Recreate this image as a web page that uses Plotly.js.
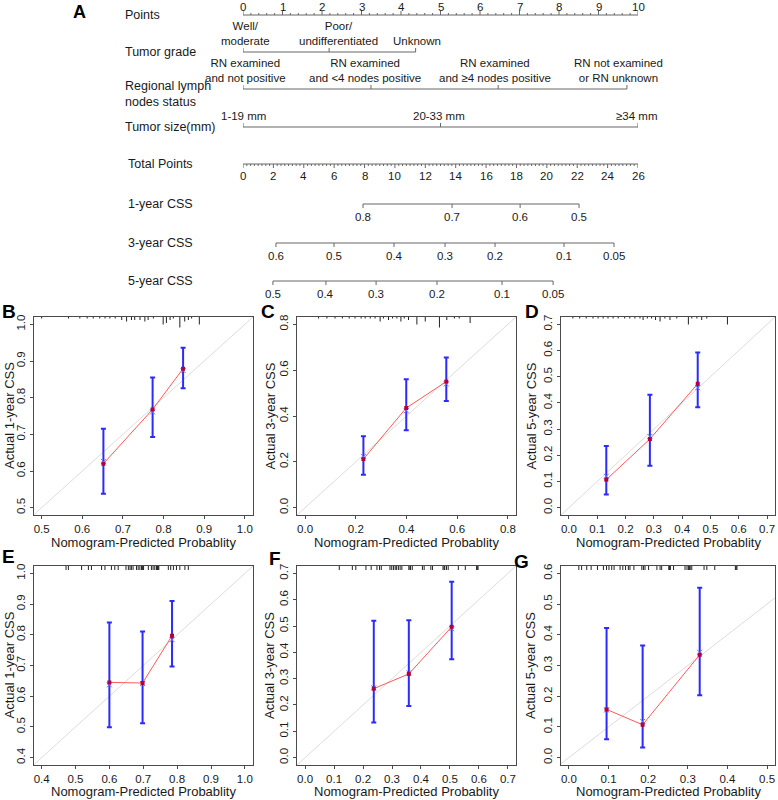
<!DOCTYPE html>
<html><head><meta charset="utf-8">
<script src="https://cdn.plot.ly/plotly-3.0.1.min.js"></script>
<style>body{margin:0;background:#fff}</style>
</head><body><div id="chart" style="width:778px;height:800px"></div>
<script>
// ================= DATA =================
// Nomogram (panel A)
const pointsTickLabels = [0,1,2,3,4,5,6,7,8,9,10];
const gradeLevels = ['Well/<br>moderate','Poor/<br>undifferentiated','Unknown'];
const gradePoints = [0, 2.18, 4.37];
const lymphLevels = ['RN examined<br>and not positive','RN examined<br>and &lt;4 nodes positive','RN examined<br>and ≥4 nodes positive','RN not examined<br>or RN unknown'];
const lymphPoints = [0, 3.24, 6.46, 9.72];
const sizeLevels = ['1-19 mm','20-33 mm','≥34 mm'];
const sizePoints = [0, 5.0, 10];
const totalTickLabels = [0,2,4,6,8,10,12,14,16,18,20,22,24,26];
const css1Prob = ['0.8','0.7','0.6','0.5'];
const css1Total = [7.9, 13.76, 18.24, 22.12];
const css3Prob = ['0.6','0.5','0.4','0.3','0.2','0.1','0.05'];
const css3Total = [2.17, 5.99, 9.94, 13.30, 16.59, 21.13, 24.42];
const css5Prob = ['0.5','0.4','0.3','0.2','0.1','0.05'];
const css5Total = [1.97, 5.46, 8.76, 12.77, 17.05, 20.41];

// Calibration panels
const predB = [0.652, 0.773, 0.848];
const obsB  = [0.620, 0.768, 0.879];
const loB   = [0.538, 0.693, 0.826];
const hiB   = [0.715, 0.855, 0.936];
const corrB = [0.626, 0.761, 0.874];
const rugBx = [0.500,0.566,0.594,0.612,0.627,0.643,0.656,0.668,0.681,0.697,0.709,0.721,0.729,0.742,0.754,0.762,0.775,0.799,0.807,0.816,0.824,0.840,0.852,0.861,0.869,0.888];
const rugBn = [1,1,1,1,1,1,1,1,1,2,3,2,2,2,3,2,1,5,4,2,1,7,3,2,1,5];

const predC = [0.230, 0.399, 0.557];
const obsC  = [0.212, 0.435, 0.550];
const loC   = [0.144, 0.338, 0.466];
const hiC   = [0.312, 0.560, 0.655];
const corrC = [0.223, 0.423, 0.540];
const rugCx = [0.053,0.086,0.118,0.147,0.174,0.197,0.221,0.237,0.257,0.276,0.296,0.309,0.329,0.345,0.362,0.378,0.391,0.408,0.441,0.474,0.530,0.559,0.589,0.608,0.651];
const rugCn = [1,1,1,1,1,1,1,1,1,1,3,1,2,1,1,3,1,2,5,3,7,2,1,1,4];

const predD = [0.132, 0.286, 0.455];
const obsD  = [0.107, 0.262, 0.473];
const loD   = [0.050, 0.160, 0.383];
const hiD   = [0.235, 0.431, 0.592];
const corrD = [0.120, 0.272, 0.458];
const rugDx = [0.014,0.038,0.061,0.085,0.103,0.121,0.138,0.156,0.174,0.197,0.215,0.233,0.251,0.262,0.277,0.292,0.306,0.322,0.339,0.357,0.381,0.422,0.434,0.452,0.469,0.487,0.560];
const rugDn = [1,1,1,1,1,1,1,1,1,1,1,1,1,2,1,1,2,3,1,2,1,5,1,1,2,1,5];

const predE = [0.600, 0.698, 0.785];
const obsE  = [0.645, 0.643, 0.797];
const loE   = [0.499, 0.512, 0.697];
const hiE   = [0.840, 0.811, 0.910];
const corrE = [0.637, 0.641, 0.784];
const rugEx = [0.472,0.479,0.518,0.538,0.547,0.577,0.587,0.606,0.616,0.626,0.649,0.656,0.661,0.665,0.670,0.680,0.685,0.690,0.695,0.697,0.699,0.701,0.715,0.724,0.729,0.734,0.739,0.742,0.744,0.746,0.774,0.781,0.789,0.798,0.808,0.823,0.833];

const predF = [0.237, 0.358, 0.506];
const obsF  = [0.262, 0.318, 0.497];
const loF   = [0.133, 0.196, 0.374];
const hiF   = [0.520, 0.522, 0.668];
const corrF = [0.265, 0.322, 0.490];
const rugFx = [0.118,0.163,0.175,0.210,0.228,0.248,0.257,0.263,0.293,0.299,0.305,0.311,0.316,0.322,0.328,0.334,0.358,0.362,0.364,0.370,0.405,0.411,0.434,0.440,0.476,0.480,0.482,0.488,0.494,0.529,0.553,0.592,0.594,0.597];

const predG = [0.095, 0.186, 0.330];
const obsG  = [0.157, 0.107, 0.335];
const loG   = [0.060, 0.033, 0.203];
const hiG   = [0.422, 0.365, 0.553];
const corrG = [0.155, 0.118, 0.343];
const rugGx = [0.025,0.032,0.045,0.056,0.072,0.087,0.095,0.101,0.108,0.114,0.129,0.136,0.143,0.150,0.154,0.164,0.184,0.188,0.192,0.201,0.222,0.230,0.234,0.252,0.254,0.256,0.264,0.293,0.298,0.302,0.304,0.306,0.310,0.341,0.348,0.368,0.420,0.422,0.424];

// ================= STYLE / LAYOUT =================
const W = 778, H = 800;
const FONT = '"Liberation Sans", Arial, Helvetica, sans-serif';
const TXT = '#1a1a1a';
const traces = [];
const annotations = [];
const layout = {
  width: W, height: H,
  margin: {l:0, r:0, t:0, b:0},
  paper_bgcolor: '#fff', plot_bgcolor: 'rgba(0,0,0,0)',
  showlegend: false,
  font: {family: FONT, color: TXT},
  annotations: annotations
};

function ann(text, x, y, xref, yref, o) {
  annotations.push(Object.assign({
    text: text, x: x, y: y, xref: xref, yref: yref, showarrow: false, borderpad: 0,
    font: {family: FONT, size: 12, color: TXT}
  }, o || {}));
}
function segs(list, xa, ya, color, width) {
  const xs = [], ys = [];
  list.forEach(s => { xs.push(s[0], s[2], null); ys.push(s[1], s[3], null); });
  traces.push({type:'scatter', mode:'lines', x: xs, y: ys, xaxis: xa, yaxis: ya,
    line: {color: color, width: width || 1}, hoverinfo: 'skip', cliponaxis: false});
}

// ---------- Nomogram ----------
layout.xaxis7 = {domain:[243/W, 638/W], range:[0,10], visible:false, fixedrange:true, anchor:'y7'};
layout.xaxis8 = {overlaying:'x7', range:[0,26], visible:false, fixedrange:true, anchor:'y7'};
layout.yaxis7 = {domain:[1-300/H, 1], range:[300,0], visible:false, fixedrange:true, anchor:'x7'};

const ROW = {points:15, grade:52, lymph:89, size:127, total:164, css1:204, css3:243, css5:281};
const LINE = '#666';
const LEFTX = 124/W;

// Points axis
(function(){
  const s = [[0, ROW.points, 10, ROW.points]];
  for (let k = 0; k <= 50; k++) {
    const v = k * 0.2, len = (k % 5 === 0) ? 4 : 2;
    s.push([v, ROW.points, v, ROW.points - len]);
  }
  segs(s, 'x7', 'y7', LINE, 1);
  pointsTickLabels.forEach(v => ann(String(v), v, ROW.points - 8, 'x7', 'y7',
    {yanchor:'middle', font:{family:FONT, size:11.5, color:TXT}}));
  ann('Points', LEFTX, ROW.points, 'paper', 'y7', {xanchor:'left', yanchor:'middle', font:{family:FONT, size:12.5, color:TXT}});
})();

// Categorical rows
function catRow(levels, pts, row, shifts, label, labelDy) {
  const s = [[Math.min(...pts), row, Math.max(...pts), row]];
  pts.forEach(p => s.push([p, row, p, row - 4]));
  segs(s, 'x7', 'y7', LINE, 1);
  levels.forEach((t, i) => ann(t, pts[i], row, 'x7', 'y7',
    {yanchor:'bottom', yshift:4, xshift: shifts[i], font:{family:FONT, size:11.5, color:TXT}}));
  ann(label, LEFTX, row + (labelDy || 0), 'paper', 'y7', {xanchor:'left', yanchor:'middle', align:'left', font:{family:FONT, size:12.5, color:TXT}});
}
catRow(gradeLevels, gradePoints, ROW.grade, [3, 9, 1], 'Tumor grade');
catRow(lymphLevels, lymphPoints, ROW.lymph, [3, -6, -3, -8], 'Regional lymph<br>nodes status', 5);
catRow(sizeLevels, sizePoints, ROW.size, [1, -2, -2], 'Tumor size(mm)');

// Total points axis
(function(){
  const s = [[0, ROW.total, 26, ROW.total]];
  for (let k = 0; k <= 104; k++) {
    const v = k * 0.25, len = (k % 8 === 0) ? 4 : 2;
    s.push([v, ROW.total, v, ROW.total + len]);
  }
  segs(s, 'x8', 'y7', LINE, 1);
  totalTickLabels.forEach(v => ann(String(v), v, ROW.total + 11.5, 'x8', 'y7',
    {yanchor:'middle', font:{family:FONT, size:11.5, color:TXT}}));
  ann('Total Points', 127/W, ROW.total, 'paper', 'y7', {xanchor:'left', yanchor:'middle', font:{family:FONT, size:12.5, color:TXT}});
})();

// CSS rows
function cssRow(labels, pos, row, name) {
  const s = [[Math.min(...pos), row, Math.max(...pos), row]];
  pos.forEach(p => s.push([p, row, p, row + 4]));
  segs(s, 'x8', 'y7', LINE, 1);
  labels.forEach((t, i) => ann(t, pos[i], row + 12.5, 'x8', 'y7',
    {yanchor:'middle', font:{family:FONT, size:11.5, color:TXT}}));
  ann(name, 127/W, row, 'paper', 'y7', {xanchor:'left', yanchor:'middle', font:{family:FONT, size:12.5, color:TXT}});
}
cssRow(css1Prob, css1Total, ROW.css1, '1-year CSS');
cssRow(css3Prob, css3Total, ROW.css3, '3-year CSS');
cssRow(css5Prob, css5Total, ROW.css5, '5-year CSS');

ann('<b>A</b>', 79.5/W, 1 - 12/H, 'paper', 'paper', {xanchor:'center', yanchor:'middle', font:{family:FONT, size:18, color:'#000'}});

// ---------- Calibration panels ----------
const COLS = [[33.5, 253], [297, 516], [561, 775]];
const ROWS = [[317, 515], [566, 765]];
const YTITLE_X = [9, 269.5, 530.5];
const XTITLE_Y = [542, 791];
const LETTER_POS = {B:[8.5,311.7], C:[268,311.7], D:[531.7,311.7], E:[8.5,556.7], F:[275,558], G:[521,561]};

const panels = [
  {L:'B', pred:predB, obs:obsB, lo:loB, hi:hiB, corr:corrB, rugX:rugBx, rugN:rugBn, xl:[0.5,1.0], yl:[0.5,1.0], dx:0.1, dy:0.1, yt:'Actual 1-year CSS', c:0, r:0},
  {L:'C', pred:predC, obs:obsC, lo:loC, hi:hiC, corr:corrC, rugX:rugCx, rugN:rugCn, xl:[0,0.8], yl:[0,0.8], dx:0.2, dy:0.2, yt:'Actual 3-year CSS', c:1, r:0},
  {L:'D', pred:predD, obs:obsD, lo:loD, hi:hiD, corr:corrD, rugX:rugDx, rugN:rugDn, xl:[0,0.7], yl:[0,0.7], dx:0.1, dy:0.1, yt:'Actual 5-year CSS', c:2, r:0},
  {L:'E', pred:predE, obs:obsE, lo:loE, hi:hiE, corr:corrE, rugX:rugEx, rugN:null, xl:[0.4,1.0], yl:[0.4,1.0], dx:0.1, dy:0.1, yt:'Actual 1-year CSS', c:0, r:1},
  {L:'F', pred:predF, obs:obsF, lo:loF, hi:hiF, corr:corrF, rugX:rugFx, rugN:null, xl:[0,0.7], yl:[0,0.7], dx:0.1, dy:0.1, yt:'Actual 3-year CSS', c:1, r:1},
  {L:'G', pred:predG, obs:obsG, lo:loG, hi:hiG, corr:corrG, rugX:rugGx, rugN:null, xl:[0,0.5], yl:[0,0.6], dx:0.1, dy:0.1, yt:'Actual 5-year CSS', c:2, r:1}
];

function ticksOf(lim, d) {
  const out = []; const n = Math.round((lim[1]-lim[0])/d);
  for (let i = 0; i <= n; i++) out.push(+(lim[0] + i*d).toFixed(3));
  return out;
}
function ext(lim) { const s = lim[1]-lim[0]; return [lim[0]-0.04*s, lim[1]+0.04*s]; }

panels.forEach((p, idx) => {
  const n = idx + 1;
  const xk = n === 1 ? 'xaxis' : 'xaxis' + n;
  const yk = n === 1 ? 'yaxis' : 'yaxis' + n;
  const xa = n === 1 ? 'x' : 'x' + n;
  const ya = n === 1 ? 'y' : 'y' + n;
  const cx = COLS[p.c], ry = ROWS[p.r];
  const xr = ext(p.xl), yr = ext(p.yl);
  const boxH = ry[1] - ry[0];
  const axCommon = {showline:true, mirror:true, linecolor:'#4a4a4a', linewidth:1, ticks:'outside', ticklen:3,
    tickcolor:'#4a4a4a', showgrid:false, zeroline:false, fixedrange:true, tickformat:'.1f',
    tickfont:{family:FONT, size:11.5, color:TXT}};
  layout[xk] = Object.assign({}, axCommon, {domain:[cx[0]/W, cx[1]/W], range:xr, anchor:ya,
    tickmode:'array', tickvals:ticksOf(p.xl, p.dx)});
  layout[yk] = Object.assign({}, axCommon, {domain:[1-ry[1]/H, 1-ry[0]/H], range:yr, anchor:xa,
    tickmode:'array', tickvals:ticksOf(p.yl, p.dy), tickangle:-90});

  // ideal diagonal
  const d0 = Math.min(xr[0], yr[0]), d1 = Math.max(xr[1], yr[1]);
  traces.push({type:'scatter', mode:'lines', x:[d0, d1], y:[d0, d1], xaxis:xa, yaxis:ya,
    line:{color:'#dcdcdc', width:1}, hoverinfo:'skip'});

  // rug at top
  const perPx = (yr[1]-yr[0]) / boxH;
  const rx = [], rY = [];
  p.rugX.forEach((v, i) => {
    const hpx = p.rugN ? p.rugN[i] * 1.5 : 4;
    rx.push(v, v, null); rY.push(yr[1], yr[1] - hpx*perPx, null);
  });
  traces.push({type:'scatter', mode:'lines', x:rx, y:rY, xaxis:xa, yaxis:ya,
    line:{color:'#222', width:1}, hoverinfo:'skip'});

  // error bars
  traces.push({type:'scatter', mode:'markers', x:p.pred, y:p.obs, xaxis:xa, yaxis:ya,
    marker:{size:1, color:'rgba(0,0,0,0)'}, hoverinfo:'skip',
    error_y:{type:'data', symmetric:false,
      array:p.hi.map((h, i) => h - p.obs[i]), arrayminus:p.lo.map((l, i) => p.obs[i] - l),
      color:'#2b2bff', thickness:2, width:2.5}});

  // bias-corrected marks
  traces.push({type:'scatter', mode:'markers', x:p.pred, y:p.corr, xaxis:xa, yaxis:ya,
    marker:{symbol:'x-thin', size:5, line:{color:'#7070ff', width:1}}, hoverinfo:'skip'});

  // apparent calibration line
  traces.push({type:'scatter', mode:'lines+markers', x:p.pred, y:p.obs, xaxis:xa, yaxis:ya,
    line:{color:'#ff5a5a', width:1}, marker:{symbol:'square', size:4, color:'#b3003c'}, hoverinfo:'skip'});

  // titles
  const xc = (cx[0] + cx[1]) / 2, yc = (ry[0] + ry[1]) / 2;
  ann('Nomogram-Predicted Probablity', xc/W, 1 - XTITLE_Y[p.r]/H, 'paper', 'paper',
    {xanchor:'center', yanchor:'middle', font:{family:FONT, size:13, color:TXT}});
  ann(p.yt, YTITLE_X[p.c]/W, 1 - yc/H, 'paper', 'paper',
    {xanchor:'center', yanchor:'middle', textangle:-90, font:{family:FONT, size:13, color:TXT}});
  const lp = LETTER_POS[p.L];
  ann('<b>' + p.L + '</b>', lp[0]/W, 1 - lp[1]/H, 'paper', 'paper',
    {xanchor:'center', yanchor:'middle', font:{family:FONT, size:19, color:'#000'}});
});

Plotly.newPlot('chart', traces, layout, {displayModeBar:false, staticPlot:true});
</script>
</body></html>
